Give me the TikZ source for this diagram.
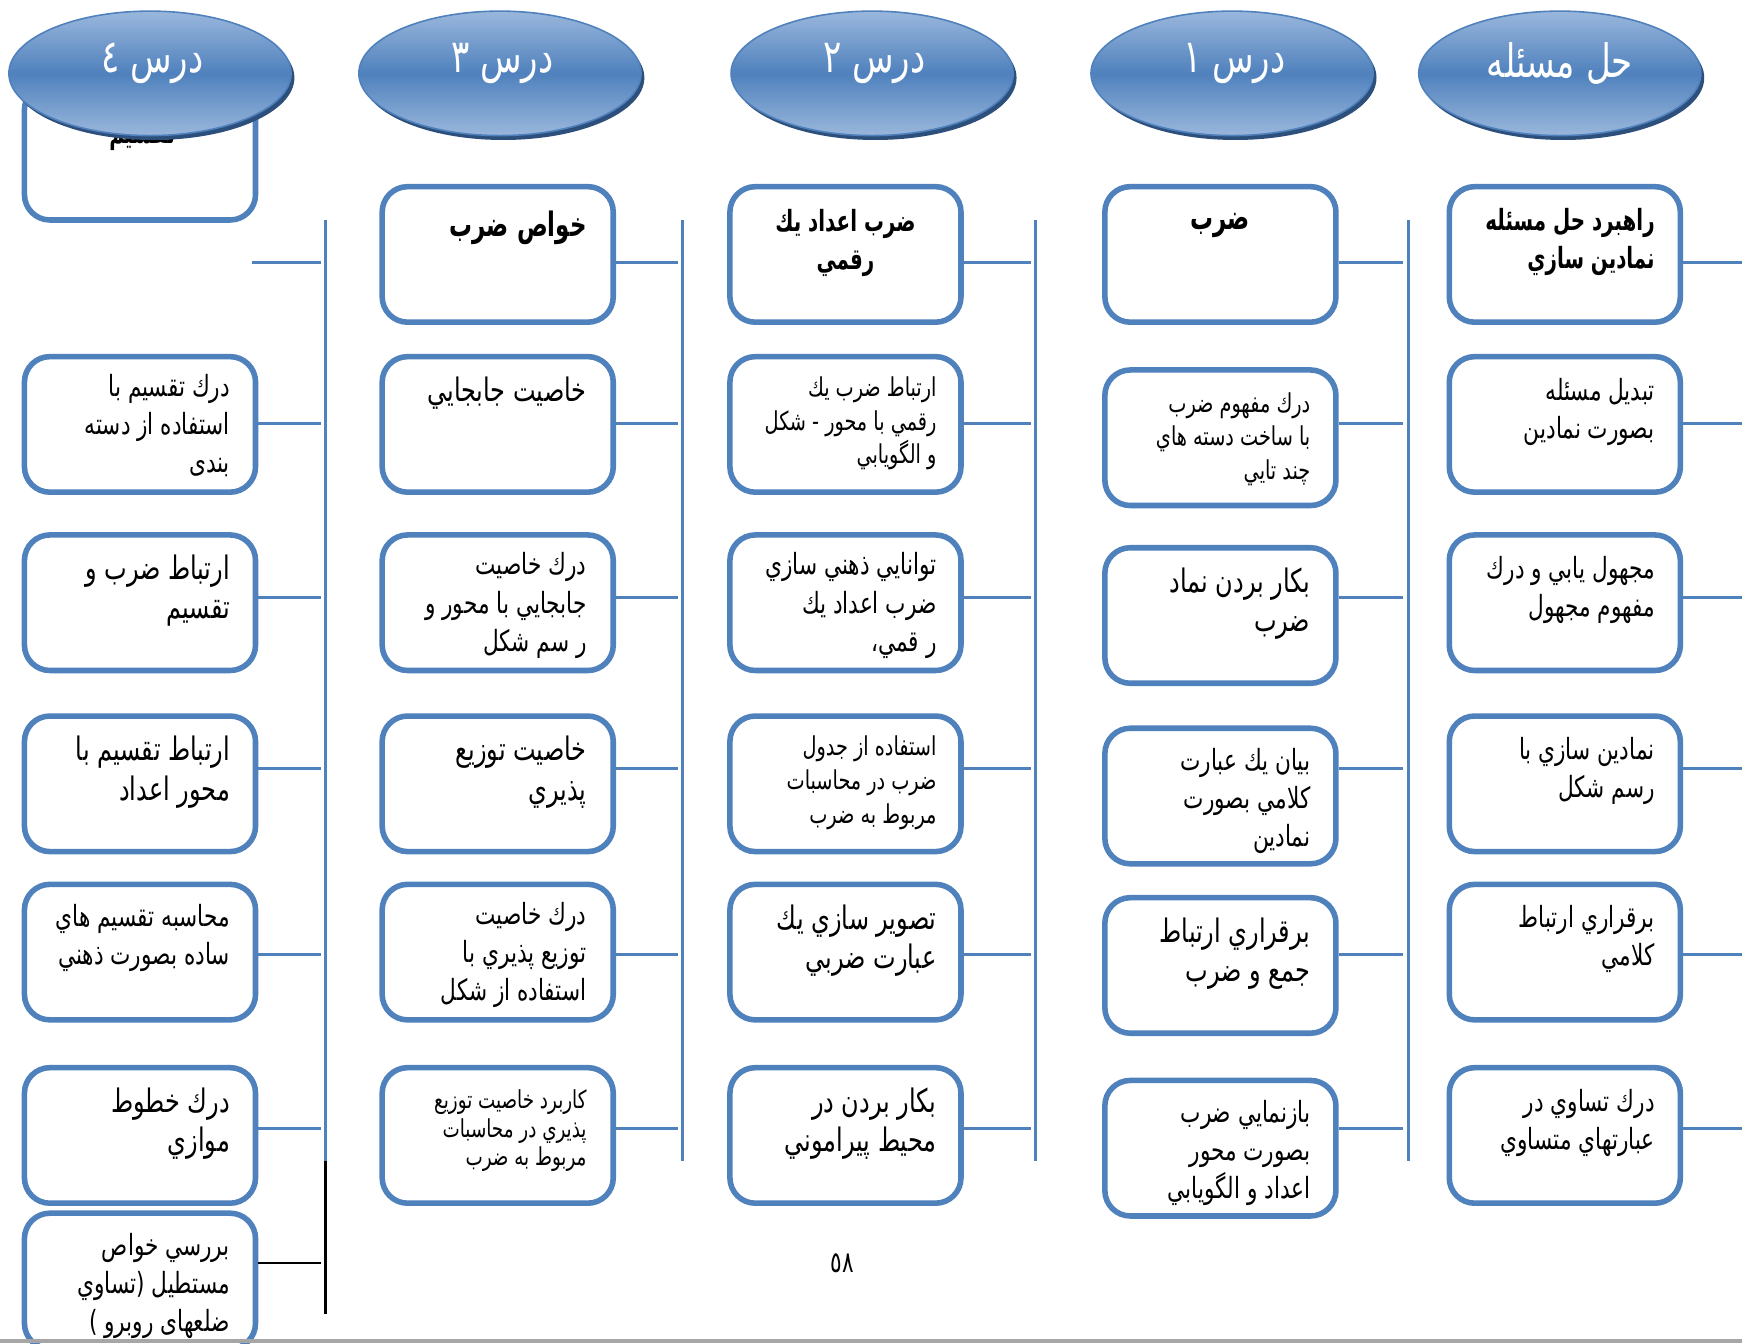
\documentclass[tikz,border=0pt]{standalone}
\usepackage{fontspec}
\setmainfont{Liberation Sans}
\newfontfamily\arabicfont[Script=Arabic,FakeStretch=0.74,BoldFeatures={FakeStretch=0.68}]{DejaVu Sans}
\TeXXeTstate=1
\usetikzlibrary{shapes.geometric,calc}
\definecolor{boxblue}{HTML}{4F81BD}
\definecolor{ellmid}{HTML}{4F81BD}
\definecolor{elllight}{HTML}{9AB7DC}
\definecolor{ellshadow}{HTML}{2D4F7C}
\definecolor{rulegray}{HTML}{A6A6A6}
\newcommand{\rl}[1]{\beginR #1\endR}
\newcommand{\fsN}{\fontsize{9.2}{12}\selectfont}
\newcommand{\fsS}{\fontsize{8.2}{10.6}\selectfont}
\newcommand{\fsT}{\fontsize{7.8}{9}\selectfont}
\newcommand{\fsL}{\fontsize{10.2}{12.4}\selectfont}
\newcommand{\fsB}{\fontsize{10.6}{12.4}\selectfont}
\newcommand{\fsH}{\fontsize{14.5}{17}\selectfont}
\begin{document}
\begin{tikzpicture}[x=0.35pt,y=-0.35pt,
  box/.style={draw=boxblue,line width=1.75pt,rounded corners=8pt,fill=white,
    minimum width=72.8pt,minimum height=42.7pt,inner sep=0pt},
  tx/.style={anchor=north east,align=right,inner sep=0pt,text=black},
  txc/.style={anchor=north,align=center,inner sep=0pt,text=black},
  stub/.style={draw=boxblue,line width=0.9pt},
  spine/.style={draw=boxblue,line width=0.9pt},
  ell/.style={ellipse,draw=boxblue,line width=0.5pt,minimum width=88.9pt,minimum height=39.2pt,
    top color=elllight,bottom color=elllight,middle color=ellmid,inner sep=0pt},
  ellsh/.style={ellipse,fill=ellshadow,minimum width=88.9pt,minimum height=39.2pt,inner sep=0pt},
  elltx/.style={text=white,font=\arabicfont\fsH,inner sep=0pt}]
\useasboundingbox (0,0) rectangle (1568,1209);
\fill[white] (0,0) rectangle (1568,1209);

% ---------- column 1 : hal masale ----------
\node[box] (b11) at (1408.5,229) {};
\node[box] (b12) at (1408.5,382) {};
\node[box] (b13) at (1408.5,542.5) {};
\node[box] (b14) at (1408.5,705.5) {};
\node[box] (b15) at (1408.5,857) {};
\node[box] (b16) at (1408.5,1022) {};
\node[tx,font=\arabicfont\bfseries\fsN] (t11) at ($(b11.north east)+(-25,21)$) {\rl{راهبرد حل مسئله}\\\rl{نمادين سازي}};
\node[tx,font=\arabicfont\fsN] (t12) at ($(b12.north east)+(-25,21)$) {\rl{تبديل مسئله}\\\rl{بصورت نمادين}};
\node[tx,font=\arabicfont\fsN] (t13) at ($(b13.north east)+(-25,21)$) {\rl{مجهول يابي و درك}\\\rl{مفهوم مجهول}};
\node[tx,font=\arabicfont\fsN] (t14) at ($(b14.north east)+(-25,21)$) {\rl{نمادين سازي با}\\\rl{رسم شكل}};
\node[tx,font=\arabicfont\fsN] (t15) at ($(b15.north east)+(-25,21)$) {\rl{برقراري ارتباط}\\\rl{كلامي}};
\node[tx,font=\arabicfont\fsN] (t16) at ($(b16.north east)+(-25,21)$) {\rl{درك تساوي در}\\\rl{عبارتهاي متساوي}};

% ---------- column 2 : dars 1 ----------
\node[box] (b21) at (1098.5,229) {};
\node[box] (b22) at (1098.5,394) {};
\node[box] (b23) at (1098.5,554) {};
\node[box] (b24) at (1098.5,716.5) {};
\node[box] (b25) at (1098.5,869) {};
\node[box] (b26) at (1098.5,1033.5) {};
\node[txc,font=\arabicfont\bfseries\fsB] (t21) at ($(b21.north)+(0,26)$) {\rl{ضرب}};
\node[tx,font=\arabicfont\fsS] (t22) at ($(b22.north east)+(-25,22)$) {\rl{درك  مفهوم ضرب}\\\rl{با ساخت دسته هاي}\\\rl{چند تايي}};
\node[tx,font=\arabicfont\fsL] (t23) at ($(b23.north east)+(-25,20)$) {\rl{بكار بردن نماد}\\\rl{ضرب}};
\node[tx,font=\arabicfont\fsN] (t24) at ($(b24.north east)+(-25,20)$) {\rl{بيان يك عبارت}\\\rl{كلامي بصورت}\\\rl{نمادين}};
\node[tx,font=\arabicfont\fsL] (t25) at ($(b25.north east)+(-25,20)$) {\rl{برقراري ارتباط}\\\rl{جمع و ضرب}};
\node[tx,font=\arabicfont\fsN] (t26) at ($(b26.north east)+(-25,20)$) {\rl{بازنمايي ضرب}\\\rl{بصورت محور}\\\rl{اعداد و  الگويابي}};

% ---------- column 3 : dars 2 ----------
\node[box] (b31) at (761,229) {};
\node[box] (b32) at (761,382) {};
\node[box] (b33) at (761,542.5) {};
\node[box] (b34) at (761,705.5) {};
\node[box] (b35) at (761,857) {};
\node[box] (b36) at (761,1022) {};
\node[txc,font=\arabicfont\bfseries\fsN] (t31) at ($(b31.north)+(0,22)$) {\rl{ضرب اعداد يك}\\\rl{رقمي}};
\node[tx,font=\arabicfont\fsS] (t32) at ($(b32.north east)+(-24,20)$) {\rl{ارتباط ضرب يك}\\\rl{رقمي با محور - شكل}\\\rl{و الگويابي}};
\node[tx,font=\arabicfont\fsN] (t33) at ($(b33.north east)+(-24,18)$) {\rl{توانايي ذهني سازي}\\\rl{ضرب اعداد يك}\\\rl{ر قمي،}};
\node[tx,font=\arabicfont\fsS] (t34) at ($(b34.north east)+(-24,20)$) {\rl{استفاده از جدول}\\\rl{ضرب در محاسبات}\\\rl{مربوط به ضرب}};
\node[tx,font=\arabicfont\fsL] (t35) at ($(b35.north east)+(-24,20)$) {\rl{تصوير سازي يك}\\\rl{عبارت ضربي}};
\node[tx,font=\arabicfont\fsL] (t36) at ($(b36.north east)+(-24,20)$) {\rl{بكار بردن در}\\\rl{محيط پيراموني}};

% ---------- column 4 : dars 3 ----------
\node[box] (b41) at (448,229) {};
\node[box] (b42) at (448,382) {};
\node[box] (b43) at (448,542.5) {};
\node[box] (b44) at (448,705.5) {};
\node[box] (b45) at (448,857) {};
\node[box] (b46) at (448,1022) {};
\node[tx,font=\arabicfont\bfseries\fsB] (t41) at ($(b41.north east)+(-26,24)$) {\rl{خواص ضرب}};
\node[tx,font=\arabicfont\fsL] (t42) at ($(b42.north east)+(-26,20)$) {\rl{خاصيت جابجايي}};
\node[tx,font=\arabicfont\fsN] (t43) at ($(b43.north east)+(-26,18)$) {\rl{درك خاصيت}\\\rl{جابجايي با محور و}\\\rl{ر سم شكل}};
\node[tx,font=\arabicfont\fsL] (t44) at ($(b44.north east)+(-26,20)$) {\rl{خاصيت توزيع}\\\rl{پذيري}};
\node[tx,font=\arabicfont\fsN] (t45) at ($(b45.north east)+(-26,18)$) {\rl{درك خاصيت}\\\rl{توزيع پذيري با}\\\rl{استفاده از  شكل}};
\node[tx,font=\arabicfont\fsT] (t46) at ($(b46.north east)+(-26,22)$) {\rl{كاربرد خاصيت توزيع}\\\rl{پذيري در محاسبات}\\\rl{مربوط به ضرب}};

% ---------- column 5 : dars 4 ----------
\node[box] (b50) at (126,137) {};
\node[box] (b51) at (126,382) {};
\node[box] (b52) at (126,542.5) {};
\node[box] (b53) at (126,705.5) {};
\node[box] (b54) at (126,857) {};
\node[box] (b55) at (126,1022) {};
\node[box] (b56) at (126,1153) {};
\node[inner sep=0pt,font=\arabicfont\bfseries\fsN] (t50) at (128,124) {\rl{تقسيم}};
\node[tx,font=\arabicfont\fsN] (t51) at ($(b51.north east)+(-25,18)$) {\rl{درك تقسيم با}\\\rl{استفاده از دسته}\\\rl{بندی}};
\node[tx,font=\arabicfont\fsL] (t52) at ($(b52.north east)+(-25,20)$) {\rl{ارتباط ضرب و}\\\rl{تقسيم}};
\node[tx,font=\arabicfont\fsL] (t53) at ($(b53.north east)+(-25,20)$) {\rl{ارتباط تقسيم با}\\\rl{محور اعداد}};
\node[tx,font=\arabicfont\fsN] (t54) at ($(b54.north east)+(-25,20)$) {\rl{محاسبه تقسيم هاي}\\\rl{ساده بصورت ذهني}};
\node[tx,font=\arabicfont\fsL] (t55) at ($(b55.north east)+(-25,20)$) {\rl{درك خطوط}\\\rl{موازي}};
\node[tx,font=\arabicfont\fsN] (t56) at ($(b56.north east)+(-25,20)$) {\rl{بررسي خواص}\\\rl{مستطيل (تساوي}\\\rl{ضلعهای روبرو )}};

% ---------- spines ----------
\coordinate (s2t) at (1268,198); \coordinate (s2b) at (1268,1045);
\coordinate (s3t) at (932,198);  \coordinate (s3b) at (932,1045);
\coordinate (s4t) at (614,198);  \coordinate (s4b) at (614,1045);
\coordinate (s5t) at (293,198);  \coordinate (s5b) at (293,1045);
\coordinate (s5e) at (293,1183);
\draw[spine] (s2t) -- (s2b);
\draw[spine] (s3t) -- (s3b);
\draw[spine] (s4t) -- (s4b);
\draw[spine] (s5t) -- (s5b);
\draw[black,line width=0.8pt] (s5b) -- (s5e);

% ---------- stubs ----------
\foreach \r/\y in {1/236,2/381,3/538,4/692,5/859,6/1016}{
  \coordinate (q1\r) at (1568,\y);
  \coordinate (q2\r) at (1263,\y);
  \coordinate (q3\r) at (928,\y);
  \coordinate (q4\r) at (610,\y);
  \draw[stub] (b1\r.east |- q1\r) -- (q1\r);
  \draw[stub] (b2\r.east |- q2\r) -- (q2\r);
  \draw[stub] (b3\r.east |- q3\r) -- (q3\r);
  \draw[stub] (b4\r.east |- q4\r) -- (q4\r);
}
\coordinate (q51) at (289,236);
\coordinate (q52) at (289,381);
\coordinate (q53) at (289,538);
\coordinate (q54) at (289,692);
\coordinate (q55) at (289,859);
\coordinate (q56) at (289,1016);
\coordinate (q57) at (289,1137);
\coordinate (q51s) at (227,236);
\draw[stub] (q51s) -- (q51);
\draw[stub] (b51.east |- q52) -- (q52);
\draw[stub] (b52.east |- q53) -- (q53);
\draw[stub] (b53.east |- q54) -- (q54);
\draw[stub] (b54.east |- q55) -- (q55);
\draw[stub] (b55.east |- q56) -- (q56);
\draw[black,line width=0.8pt] (b56.east |- q57) -- (q57);

% ---------- ellipses ----------
\foreach \n/\x in {1/1404,2/1109,3/785,4/450,5/135}{
  \node[ellsh] (S\n) at (\x+3,70) {};
  \node[ell] (E\n) at (\x,66) {};
}
\node[elltx] (L1) at ($(E1)+(0,-9)$) {\rl{حل مسئله}};
\node[elltx] (L2) at ($(E2)+(2,-9)$) {\rl{درس ١}};
\node[elltx] (L3) at ($(E3)+(2,-9)$) {\rl{درس ٢}};
\node[elltx] (L4) at ($(E4)+(2,-9)$) {\rl{درس ٣}};
\node[elltx] (L5) at ($(E5)+(2,-9)$) {\rl{درس ٤}};

% ---------- page number and rule ----------
\node[inner sep=0pt,font=\arabicfont\fsN] (pg) at (758,1137) {٥٨};
\coordinate (r1) at (0,1207); \coordinate (r2) at (1568,1207);
\draw[rulegray,line width=1.2pt] (r1) -- (r2);
\end{tikzpicture}
\end{document}
